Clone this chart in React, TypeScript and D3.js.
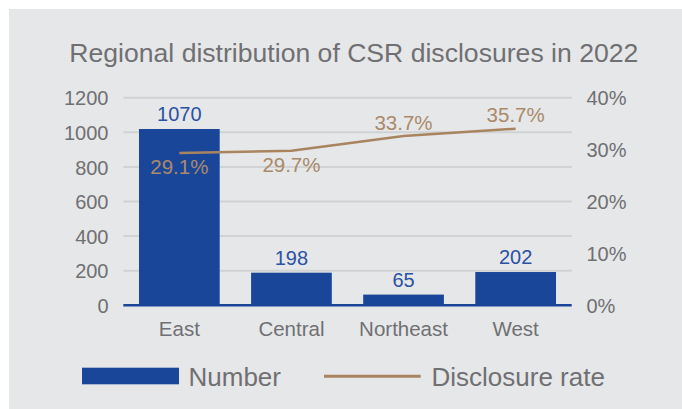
import React from 'react';
import * as d3 from 'd3';

// chart data
const categories = ['East', 'Central', 'Northeast', 'West'];
const numbers = [1070, 198, 65, 202];
const rates = [29.1, 29.7, 33.7, 35.7];
const rateLabelSide = ['below', 'below', 'above', 'above'];
const leftTicks = [0, 200, 400, 600, 800, 1000, 1200];
const rightTicks = [0, 10, 20, 30, 40];

const W = 682;
const H = 409;
const FONT = '"Liberation Sans", Arial, Helvetica, sans-serif';
const BLUE = '#1a469a';
const BLUE_TEXT = '#2b51a2';
const BROWN = '#a8845f';
const BROWN_TEXT = '#aa8a69';
const GRAY_TEXT = '#707072';
const GRID = '#d1d2d4';
const BG = '#e6e7e9';

const App = () => {
  const plot = { left: 123.3, right: 571.7, top: 97.7, bottom: 305.3 };

  const x = d3.scaleBand<string>()
    .domain(categories)
    .range([plot.left, plot.right])
    .paddingInner(0.28)
    .paddingOuter(0.14);

  // axis scales (gridlines + tick labels)
  const yLeft = d3.scaleLinear().domain([0, 1200]).range([plot.bottom, plot.top]);
  const yRight = d3.scaleLinear().domain([0, 40]).range([plot.bottom, plot.top]);

  // the marks in the original are plotted on their own scales
  const yBar = d3.scaleLinear().domain([0, 1200]).range([plot.bottom, 107.6]);
  const yLine = d3.scaleLinear().domain([0, 40]).range([260.1, 112.9]);

  const cx = (c: string) => (x(c) as number) + x.bandwidth() / 2;

  const linePath = d3.line<number>()
    .x((_, i) => cx(categories[i]))
    .y(d => yLine(d))(rates) as string;

  return (
    <div style={{ position: 'absolute', left: 0, top: 0 }}>
      <svg width={W} height={H} style={{ display: 'block', background: '#fff' }} fontFamily={FONT}>
        <rect x={9} y={9} width={W - 9} height={H - 9} fill={BG} />

        <text x={69.3} y={62} fontSize={26} fill={GRAY_TEXT}
          textLength={569} lengthAdjust="spacingAndGlyphs">
          Regional distribution of CSR disclosures in 2022
        </text>

        {/* gridlines */}
        {leftTicks.filter(t => t > 0).map(t => (
          <line key={'g' + t} x1={plot.left} x2={plot.right} y1={yLeft(t)} y2={yLeft(t)}
            stroke={GRID} strokeWidth={2} />
        ))}

        {/* left axis labels */}
        {leftTicks.map(t => (
          <text key={'l' + t} x={108.5} y={yLeft(t)} dy="0.38em" textAnchor="end"
            fontSize={20} fill={GRAY_TEXT}>{t}</text>
        ))}

        {/* right axis labels */}
        {rightTicks.map(t => (
          <text key={'r' + t} x={586.5} y={yRight(t)} dy="0.38em" textAnchor="start"
            fontSize={20} fill={GRAY_TEXT}>{t + '%'}</text>
        ))}

        {/* bars */}
        {categories.map((c, i) => (
          <rect key={c} x={x(c)} y={yBar(numbers[i])} width={x.bandwidth()}
            height={plot.bottom - yBar(numbers[i])} fill={BLUE} />
        ))}

        <line x1={plot.left} x2={plot.right} y1={plot.bottom} y2={plot.bottom}
          stroke={BLUE} strokeWidth={2.5} />

        {/* bar value labels */}
        {categories.map((c, i) => (
          <text key={'v' + c} x={cx(c)} y={yBar(numbers[i]) - 8} textAnchor="middle"
            fontSize={20} fill={BLUE_TEXT}>{numbers[i]}</text>
        ))}

        {/* category labels */}
        {categories.map(c => (
          <text key={'c' + c} x={cx(c)} y={335.7} textAnchor="middle"
            fontSize={20.5} fill={GRAY_TEXT}>{c}</text>
        ))}

        {/* rate line */}
        <path d={linePath} fill="none" stroke={BROWN} strokeWidth={2.5} />

        {categories.map((c, i) => (
          <text key={'p' + c} x={cx(c)}
            y={rateLabelSide[i] === 'below' ? yLine(rates[i]) + 21 : yLine(rates[i]) - 6.5}
            textAnchor="middle" fontSize={20.5} fill={BROWN_TEXT}>{rates[i].toFixed(1) + '%'}</text>
        ))}

        {/* legend */}
        <rect x={82} y={367.7} width={97} height={16.6} fill={BLUE} />
        <text x={188.5} y={386} fontSize={26} fill={GRAY_TEXT}>Number</text>
        <line x1={324} x2={420.7} y1={376.3} y2={376.3} stroke={BROWN} strokeWidth={3} />
        <text x={431.5} y={386} fontSize={26} fill={GRAY_TEXT}>Disclosure rate</text>
      </svg>
    </div>
  );
};

export default App;
